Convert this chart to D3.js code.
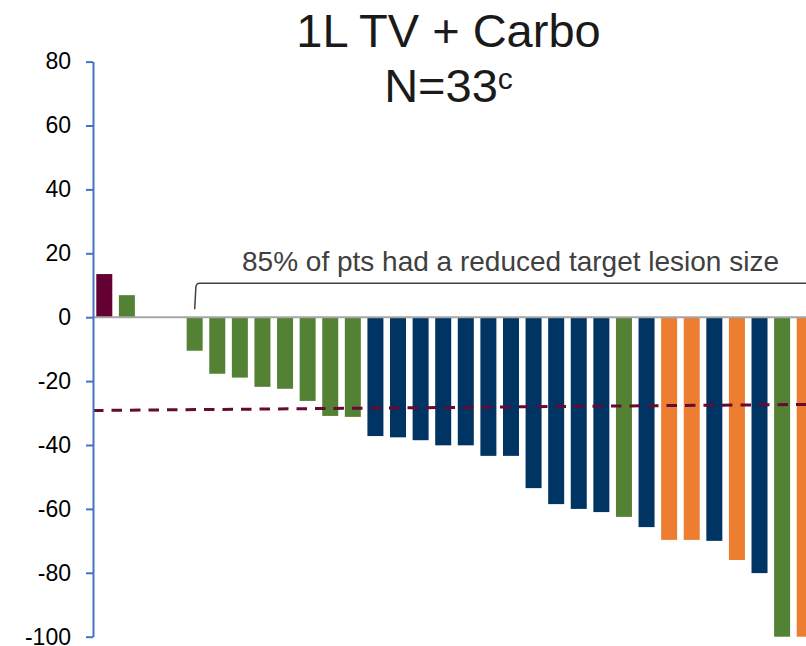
<!DOCTYPE html>
<html>
<head>
<meta charset="utf-8">
<script src="https://cdn.jsdelivr.net/npm/d3@7"></script>
<style>
  html, body { margin: 0; padding: 0; background: #ffffff; }
  svg { display: block; font-family: "Liberation Sans", Arial, sans-serif; }
</style>
</head>
<body>
<svg id="chart" width="806" height="646"></svg>
<script>
// Best percent change from baseline in target lesion size, one bar per patient
const patients = d3.range(1, 33).map(i => "Pt " + i);
const pctChange = [
  13.5, 6.9, 0, 0,
  -10.5, -17.7, -18.9, -21.8, -22.4, -26.2, -30.9, -31.2,
  -37.2, -37.6, -38.5, -40.1, -40.1, -43.4, -43.4, -53.5, -58.5, -60.0, -61.0,
  -62.5, -65.7, -69.7, -69.7, -70.0, -76.0, -80.1, -100, -100
];
const group = [
  "A", "B", null, null,
  "B", "B", "B", "B", "B", "B", "B", "B",
  "C", "C", "C", "C", "C", "C", "C", "C", "C", "C", "C",
  "B", "C", "D", "D", "C", "D", "C", "B", "D"
];
const groupKeys = ["A", "B", "C", "D"];
const yTicks = [-100, -80, -60, -40, -20, 0, 20, 40, 60, 80];
// -30% threshold reference line (start, end)
const thresholdLine = [-29.2, -27.3];
const titleLines = ["1L TV + Carbo", "N=33"];
const titleSup = "c";
const noteText = "85% of pts had a reduced target lesion size";

const W = 806, H = 646;
const svg = d3.select("#chart");

const y = d3.scaleLinear().domain([-100, 80]).range([636.7, 61.6]);
const x = d3.scaleBand().domain(patients).range([93, 816])
  .paddingInner(0.292).paddingOuter(0.146);
const color = d3.scaleOrdinal().domain(groupKeys)
  .range(["#650032", "#548235", "#003462", "#ED7D31"]);

const rows = patients.map((p, i) => ({ p, v: pctChange[i], g: group[i] }));

// bars
svg.append("g").selectAll("rect")
  .data(rows.filter(d => d.g !== null))
  .join("rect")
  .attr("x", d => x(d.p))
  .attr("width", x.bandwidth())
  .attr("y", d => y(Math.max(0, d.v)))
  .attr("height", d => Math.abs(y(d.v) - y(0)))
  .attr("fill", d => color(d.g));

// zero baseline
svg.append("line")
  .attr("x1", 93).attr("x2", W)
  .attr("y1", y(0)).attr("y2", y(0))
  .attr("stroke", "#A6A6A6").attr("stroke-width", 2);

// threshold dashed line
const tx = d3.scaleLinear().domain([0, 1]).range([93, W]);
svg.append("path")
  .datum(thresholdLine)
  .attr("d", d3.line().x((d, i) => tx(i)).y(d => y(d)))
  .attr("fill", "none")
  .attr("stroke", "#660A33")
  .attr("stroke-width", 3)
  .attr("stroke-dasharray", "10.5 8");

// y axis
const axis = svg.append("g")
  .attr("transform", "translate(93,0)")
  .call(d3.axisLeft(y).tickValues(yTicks).tickFormat(d => String(d))
    .tickSize(7).tickSizeOuter(0).tickPadding(15));
axis.select(".domain").attr("stroke", "#4472C4").attr("stroke-width", 2);
axis.selectAll(".tick line").attr("stroke", "#4472C4").attr("stroke-width", 2);
axis.selectAll(".tick text")
  .attr("fill", "#000")
  .style("font-size", "23px")
  .style("font-family", "'Liberation Sans', Arial, sans-serif");

// bracket over the patients with reduced lesion size
const firstReduced = rows.find(d => d.v < 0).p;
const bx = x(firstReduced) + x.bandwidth() / 2;
const bTop = y(10.6), bLow = y(2.5);
svg.append("path")
  .attr("d", `M${bx},${bLow} L${bx + 1.2},${bTop + 4} Q${bx + 1.5},${bTop} ${bx + 5},${bTop} L${W + 5},${bTop}`)
  .attr("fill", "none")
  .attr("stroke", "#404040")
  .attr("stroke-width", 1.5);

svg.append("text")
  .attr("x", 510.5).attr("y", 270.5)
  .attr("text-anchor", "middle")
  .attr("fill", "#404040")
  .style("font-size", "28px")
  .text(noteText);

// title
svg.append("text")
  .attr("x", 448.5).attr("y", 46.7)
  .attr("text-anchor", "middle")
  .attr("fill", "#1a1a1a")
  .style("font-size", "47px")
  .text(titleLines[0]);

const t2 = svg.append("text")
  .attr("x", 448.5).attr("y", 101.7)
  .attr("text-anchor", "middle")
  .attr("fill", "#1a1a1a")
  .style("font-size", "47px");
t2.append("tspan").text(titleLines[1]);
t2.append("tspan").attr("dy", -13).style("font-size", "30px").text(titleSup);
</script>
</body>
</html>
